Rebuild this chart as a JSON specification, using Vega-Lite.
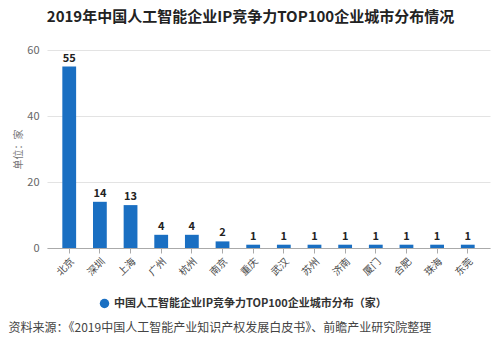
{
  "$schema": "https://vega.github.io/schema/vega-lite/v6.json",
  "width": 443,
  "height": 198,
  "autosize": {"type": "none"},
  "padding": {"left": 47, "top": 50, "right": 10, "bottom": 115},
  "background": "#ffffff",
  "config": {
    "font": "Noto Sans CJK SC",
    "view": {"stroke": null}
  },
  "title": {
    "text": "2019年中国人工智能企业IP竞争力TOP100企业城市分布情况",
    "fontSize": 15,
    "fontWeight": "bold",
    "color": "#222222",
    "anchor": "middle",
    "frame": "group",
    "dx": -18,
    "offset": 19
  },
  "data": {
    "values": [
      {"city": "北京", "count": 55, "series": "中国人工智能企业IP竞争力TOP100企业城市分布（家）"},
      {"city": "深圳", "count": 14, "series": "中国人工智能企业IP竞争力TOP100企业城市分布（家）"},
      {"city": "上海", "count": 13, "series": "中国人工智能企业IP竞争力TOP100企业城市分布（家）"},
      {"city": "广州", "count": 4, "series": "中国人工智能企业IP竞争力TOP100企业城市分布（家）"},
      {"city": "杭州", "count": 4, "series": "中国人工智能企业IP竞争力TOP100企业城市分布（家）"},
      {"city": "南京", "count": 2, "series": "中国人工智能企业IP竞争力TOP100企业城市分布（家）"},
      {"city": "重庆", "count": 1, "series": "中国人工智能企业IP竞争力TOP100企业城市分布（家）"},
      {"city": "武汉", "count": 1, "series": "中国人工智能企业IP竞争力TOP100企业城市分布（家）"},
      {"city": "苏州", "count": 1, "series": "中国人工智能企业IP竞争力TOP100企业城市分布（家）"},
      {"city": "济南", "count": 1, "series": "中国人工智能企业IP竞争力TOP100企业城市分布（家）"},
      {"city": "厦门", "count": 1, "series": "中国人工智能企业IP竞争力TOP100企业城市分布（家）"},
      {"city": "合肥", "count": 1, "series": "中国人工智能企业IP竞争力TOP100企业城市分布（家）"},
      {"city": "珠海", "count": 1, "series": "中国人工智能企业IP竞争力TOP100企业城市分布（家）"},
      {"city": "东莞", "count": 1, "series": "中国人工智能企业IP竞争力TOP100企业城市分布（家）"}
    ]
  },
  "encoding": {
    "x": {
      "field": "city",
      "type": "nominal",
      "sort": null,
      "scale": {"paddingInner": 0.55, "paddingOuter": 0.5},
      "axis": {
        "labelAngle": -45,
        "labelFontSize": 10,
        "labelColor": "#4a4a4a",
        "domainColor": "#aaaaaa",
        "tickColor": "#aaaaaa",
        "tickSize": 5,
        "labelPadding": 3,
        "title": "资料来源：《2019中国人工智能产业知识产权发展白皮书》、前瞻产业研究院整理",
        "titleFontSize": 12,
        "titleFontWeight": "normal",
        "titleColor": "#444444",
        "titleAnchor": "start",
        "titleAlign": "left",
        "titleBaseline": "middle",
        "titleX": -39,
        "titleY": 79
      }
    },
    "y": {
      "field": "count",
      "type": "quantitative",
      "scale": {"domain": [0, 60]},
      "axis": {
        "values": [0, 20, 40, 60],
        "domain": false,
        "ticks": false,
        "labelFontSize": 11,
        "labelColor": "#666666",
        "labelPadding": 8,
        "gridColor": "#e3e3e3",
        "title": "单位：家",
        "titleFontSize": 10,
        "titleFontWeight": "normal",
        "titleColor": "#777777",
        "titlePadding": 3
      }
    }
  },
  "layer": [
    {
      "mark": {"type": "bar", "color": "#1a6fc2"},
      "encoding": {
        "color": {
          "field": "series",
          "type": "nominal",
          "scale": {"range": ["#1a6fc2"]},
          "legend": {
            "title": null,
            "orient": "none",
            "legendX": 52,
            "legendY": 248,
            "symbolType": "circle",
            "symbolSize": 90,
            "labelFontSize": 11,
            "labelFontWeight": "bold",
            "labelColor": "#333333",
            "labelLimit": 400
          }
        }
      }
    },
    {
      "mark": {"type": "text", "dy": -8, "fontSize": 11, "fontWeight": "bold", "color": "#222222"},
      "encoding": {"text": {"field": "count", "type": "quantitative"}}
    }
  ]
}
